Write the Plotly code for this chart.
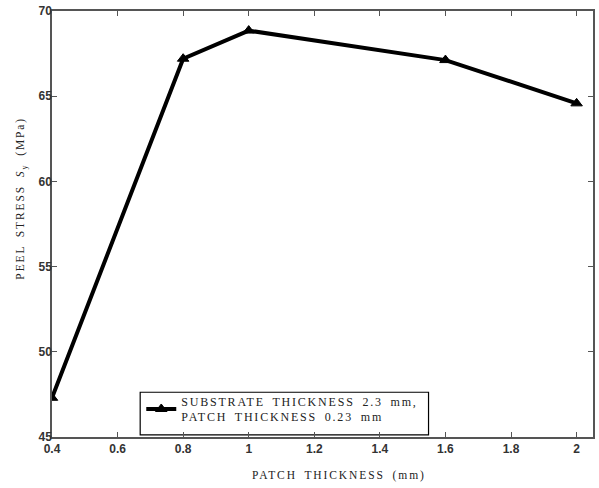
import plotly.graph_objects as go

# Patch thickness (mm) vs. peak peel stress (MPa)
patch_thickness = [0.4, 0.8, 1.0, 1.6, 2.0]
peel_stress = [47.3, 67.2, 68.85, 67.12, 64.58]

x_ticks = [0.4, 0.6, 0.8, 1.0, 1.2, 1.4, 1.6, 1.8, 2.0]
x_tick_labels = ["0.4", "0.6", "0.8", "1", "1.2", "1.4", "1.6", "1.8", "2"]
y_ticks = [45, 50, 55, 60, 65, 70]

series_name = "SUBSTRATE THICKNESS 2.3 mm,<br>PATCH THICKNESS 0.23 mm"
x_title = "PATCH THICKNESS (mm)"
y_title = "PEEL STRESS <i>S</i><sub>y</sub> (MPa)"

serif = "Liberation Serif, Times New Roman, serif"
sans = "Liberation Sans, Arial, sans-serif"

fig = go.Figure()
fig.add_trace(go.Scatter(
    x=patch_thickness, y=peel_stress,
    mode="lines+markers",
    name=series_name,
    line=dict(color="black", width=4),
    marker=dict(symbol="triangle-up", size=10, color="black",
                line=dict(color="black", width=1)),
))

axis_common = dict(
    showline=True, linecolor="#555", linewidth=1.5, mirror="ticks",
    ticks="inside", ticklen=5, tickcolor="#555", tickwidth=1,
    showgrid=False, zeroline=False,
    tickfont=dict(family=sans, size=12, color="#333", weight="bold"),
)

fig.update_xaxes(range=[0.4, 2.05], tickvals=x_ticks, ticktext=x_tick_labels,
                 **axis_common)
fig.update_yaxes(range=[45, 70], tickvals=y_ticks, ticklabelstandoff=-4,
                 **axis_common)

title_font = dict(family=serif, size=11.5, color="#222")
fig.add_annotation(text=x_title, xref="paper", yref="paper",
                   x=0.53, y=-0.09, xanchor="center", yanchor="middle",
                   showarrow=False, font=title_font)
fig.add_annotation(text=y_title, xref="paper", yref="paper",
                   x=-0.056, y=0.56, xanchor="center", yanchor="middle",
                   textangle=-90, showarrow=False, font=title_font)

# legend frame
fig.add_shape(type="rect", xref="paper", yref="paper",
              x0=0.163, x1=0.696, y0=0.005, y1=0.105,
              line=dict(color="black", width=1.2), fillcolor="white", layer="below")

fig.update_layout(
    width=599, height=488,
    margin=dict(l=52, r=4, t=10, b=51),
    paper_bgcolor="white", plot_bgcolor="white",
    showlegend=True,
    legend=dict(x=0.165, y=0.012, xanchor="left", yanchor="bottom",
                bgcolor="rgba(0,0,0,0)", borderwidth=0,
                font=dict(family=serif, size=12, color="#222")),
)

# widen the serif captions (letter and word spacing)
post = """
var gd = document.getElementById('{plot_id}');
function spacing(){
  gd.querySelectorAll('.legendtext').forEach(function(e){
    e.style.letterSpacing='1.8px'; e.style.wordSpacing='3px';});
  gd.querySelectorAll('.legend .scrollbox').forEach(function(e){e.removeAttribute('clip-path');});
  gd.querySelectorAll('.annotation-text').forEach(function(e){
    e.style.letterSpacing='1.9px'; e.style.wordSpacing='3px';});
}
spacing();
gd.on('plotly_afterplot', spacing);
setTimeout(spacing, 50);
"""

fig.write_html("out.html", post_script=post)
